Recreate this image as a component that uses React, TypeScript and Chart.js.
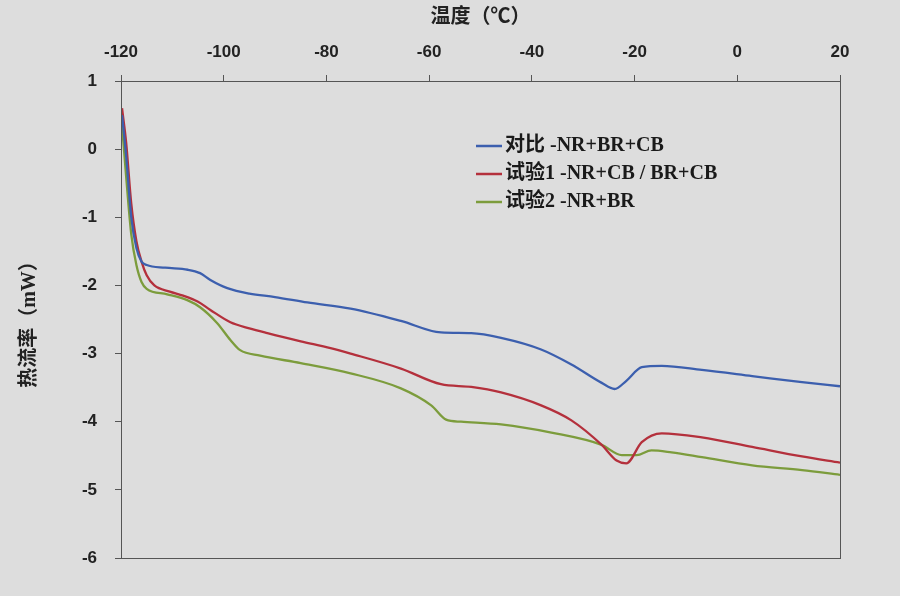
import React, { useEffect, useRef } from "react";
import { Chart, registerables } from "chart.js";

Chart.register(...registerables);

const seriesLabels = ["对比 -NR+BR+CB", "试验1 -NR+CB / BR+CB", "试验2 -NR+BR"];
const seriesColors = ["#3c5fae", "#b4303c", "#7c9c3c"];
const xTitle = "温度（℃）";
const yTitle = "热流率（mW）";

const blueX = [-119.8, -119, -118, -117, -116, -115, -111.4, -107, -104.6, -102.6, -99.3, -95, -90, -83.7, -75.3, -65.5, -57.7, -51.8, -46, -38.2, -32.3, -26.4, -23.9, -21.6, -18.6, -14.7, -6.9, 2.9, 12.6, 20];
const blueY = [0.5, -0.1, -1.0, -1.45, -1.65, -1.7, -1.74, -1.77, -1.82, -1.92, -2.04, -2.12, -2.17, -2.25, -2.34, -2.52, -2.69, -2.7, -2.77, -2.94, -3.16, -3.43, -3.52, -3.4, -3.2, -3.18, -3.24, -3.33, -3.42, -3.48];

const redX = [-119.8, -119, -118, -117, -116, -115, -113.5, -110.5, -107.9, -105, -102.6, -98.7, -95, -91.5, -85, -79.2, -75.3, -65.5, -57.7, -51.8, -46, -38.2, -32.3, -26.4, -23.5, -21.6, -18.6, -14.7, -6.9, 2.9, 12.6, 20];
const redY = [0.6, 0.1, -0.8, -1.35, -1.65, -1.85, -2.0, -2.09, -2.15, -2.24, -2.36, -2.54, -2.63, -2.7, -2.82, -2.92, -3.0, -3.22, -3.45, -3.49, -3.57, -3.76, -3.98, -4.34, -4.57, -4.61, -4.3, -4.17, -4.23, -4.37, -4.51, -4.6];

const greenX = [-119.8, -119, -118, -117, -116, -115, -111, -107, -104.6, -101.3, -98.7, -96.8, -92.9, -85, -75.3, -65.5, -59.6, -56.7, -53.8, -46, -36.2, -26.4, -22.5, -19.6, -16.7, -12.8, -6.9, 2.9, 12.6, 20];
const greenY = [0.35, -0.4, -1.25, -1.7, -1.95, -2.05, -2.13, -2.22, -2.32, -2.55, -2.8, -2.95, -3.03, -3.14, -3.29, -3.51, -3.76, -3.97, -4.0, -4.04, -4.16, -4.34, -4.49, -4.49, -4.42, -4.45, -4.52, -4.64, -4.71, -4.78];

const xMin = -120;
const xMax = 20;
const xStep = 20;
const yMin = -6;
const yMax = 1;
const yStep = 1;

const toPoints = (xs: number[], ys: number[]) => xs.map((x, i) => ({ x, y: ys[i] }));

const BG = "#dddddd";
const AXIS = "#555555";
const TICKFONT = "'Liberation Sans Narrow', 'Liberation Sans', 'DejaVu Sans', sans-serif";
const CJKFONT = "'Liberation Serif', 'Noto Sans CJK SC', serif";

const frameAndLegend = {
  id: "frameAndLegend",
  beforeDraw(chart: any) {
    const { ctx } = chart;
    ctx.save();
    ctx.fillStyle = BG;
    ctx.fillRect(0, 0, chart.width, chart.height);
    ctx.restore();
  },
  afterDraw(chart: any) {
    const { ctx, chartArea } = chart;
    ctx.save();
    ctx.strokeStyle = AXIS;
    ctx.lineWidth = 1;
    ctx.strokeRect(chartArea.left + 0.5, chartArea.top + 0.5, chartArea.right - chartArea.left, chartArea.bottom - chartArea.top);
    // legend
    const lx = chartArea.left + 355;
    const ly0 = chartArea.top + 65;
    const gap = 28;
    chart.data.datasets.forEach((ds: any, i: number) => {
      const y = ly0 + i * gap;
      ctx.strokeStyle = ds.borderColor;
      ctx.lineWidth = 2.5;
      ctx.beginPath();
      ctx.moveTo(lx, y);
      ctx.lineTo(lx + 26, y);
      ctx.stroke();
      ctx.fillStyle = "#1a1a1a";
      ctx.font = "bold 20px " + CJKFONT;
      ctx.textBaseline = "middle";
      ctx.textAlign = "left";
      ctx.fillText(ds.label, lx + 29, y);
    });
    ctx.restore();
  },
};

export default function App() {
  const ref = useRef<HTMLCanvasElement>(null);
  useEffect(() => {
    const chart = new Chart(ref.current as HTMLCanvasElement, {
      type: "line",
      data: {
        datasets: [
          { label: seriesLabels[0], data: toPoints(blueX, blueY), borderColor: seriesColors[0] },
          { label: seriesLabels[1], data: toPoints(redX, redY), borderColor: seriesColors[1] },
          { label: seriesLabels[2], data: toPoints(greenX, greenY), borderColor: seriesColors[2] },
        ].map((d) => ({ ...d, borderWidth: 2.3, pointRadius: 0, fill: false, cubicInterpolationMode: "monotone" as const })),
      },
      options: {
        animation: false,
        responsive: false,
        layout: { padding: { top: 0, left: 0, right: 60, bottom: 38 } },
        plugins: { legend: { display: false }, tooltip: { enabled: false } },
        scales: {
          x: {
            type: "linear",
            position: "top",
            min: xMin,
            max: xMax,
            ticks: { stepSize: xStep, color: "#222", font: { family: TICKFONT, size: 17, weight: "bold" }, padding: 12 },
            grid: { drawOnChartArea: false, drawTicks: true, tickLength: 6, color: AXIS },
            border: { color: AXIS },
            title: { display: true, text: xTitle, color: "#222", font: { family: CJKFONT, size: 20, weight: "bold" }, padding: { top: 6, bottom: 0 } },
            afterFit: (s: any) => { s.height = 81; },
          },
          y: {
            type: "linear",
            min: yMin,
            max: yMax,
            ticks: { stepSize: yStep, color: "#222", font: { family: TICKFONT, size: 17, weight: "bold" }, padding: 18 },
            grid: { drawOnChartArea: false, drawTicks: true, tickLength: 6, color: AXIS },
            border: { color: AXIS },
            title: { display: true, text: yTitle, color: "#222", font: { family: CJKFONT, size: 20, weight: "bold" }, padding: { top: 18, bottom: 0 } },
            afterFit: (s: any) => { s.width = 121; },
          },
        },
      },
      plugins: [frameAndLegend],
    });
    return () => chart.destroy();
  }, []);
  return (
    <div style={{ position: "absolute", left: 0, top: 0, width: 900, height: 596, background: BG }}>
      <canvas ref={ref} width={900} height={596} />
    </div>
  );
}
